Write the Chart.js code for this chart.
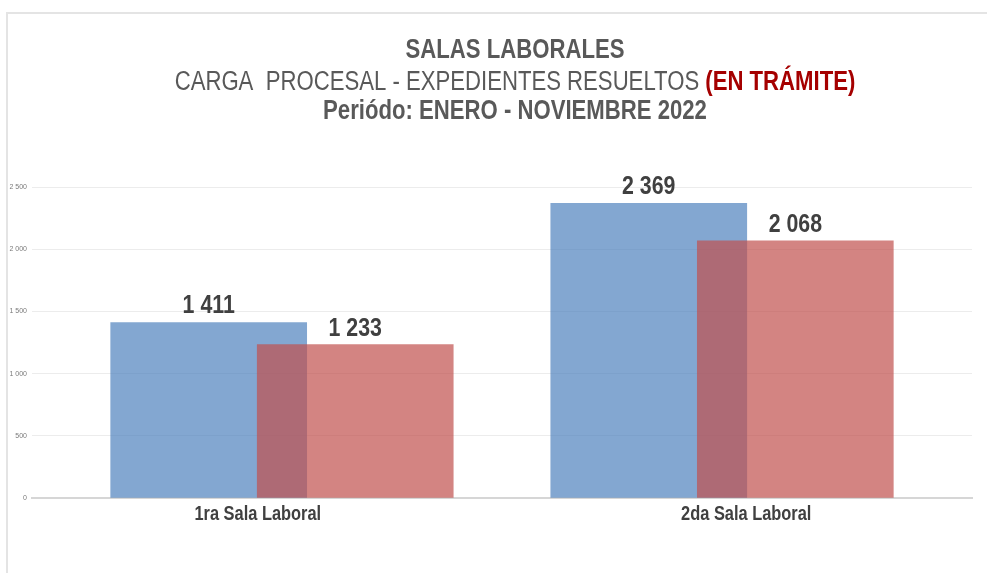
<!DOCTYPE html>
<html>
<head>
<meta charset="utf-8">
<script src="https://cdn.jsdelivr.net/npm/chart.js@4"></script>
<style>
html, body { margin: 0; padding: 0; background: #fff; }
#wrap { position: relative; width: 987px; height: 573px; overflow: hidden; }
#frame { position: absolute; left: 6px; top: 12px; right: 0; bottom: 0; border-top: 2px solid #e4e4e4; border-left: 2px solid #e4e4e4; }
canvas { position: absolute; left: 0; top: 0; }
</style>
</head>
<body>
<div id="wrap">
  <div id="frame"></div>
  <canvas id="chart" width="987" height="573"></canvas>
</div>
<script>
const CATEGORIES = ['1ra Sala Laboral', '2da Sala Laboral']
const CARGA_PROCESAL = [1411, 2369]
const RESUELTOS = [1233, 2068]
const Y_TICKS = [0, 500, 1000, 1500, 2000, 2500]

// no Arial Narrow here, so Liberation Sans squeezed horizontally
const FONT = "'Liberation Sans', Arial, sans-serif"
const NARROW = 0.82
const SHIFT = 0.1665
// category labels sit a bit wider apart than the bar groups
const LABEL_SPREAD = 1.11

function fmt(n) {
    return String(n).replace(/\B(?=(\d{3})+(?!\d))/g, ' ')
}

function narrowText(ctx, text, x, y, align) {
    ctx.save()
    ctx.translate(x, y)
    ctx.scale(NARROW, 1)
    ctx.textAlign = align || 'center'
    ctx.fillText(text, 0, 0)
    ctx.restore()
}

const titlePlugin = {
    id: 'titleLines',
    afterDraw(chart) {
        const ctx = chart.ctx
        const cx = 515
        ctx.save()
        ctx.textBaseline = 'alphabetic'
        ctx.fillStyle = '#595959'
        ctx.font = 'bold 27px ' + FONT
        narrowText(ctx, 'SALAS LABORALES', cx, 58)

        // second line has two styles
        const partA = 'CARGA  PROCESAL - EXPEDIENTES RESUELTOS '
        const partB = '(EN TRÁMITE)'
        ctx.font = '27px ' + FONT
        const wA = ctx.measureText(partA).width * NARROW
        ctx.font = 'bold 27px ' + FONT
        const wB = ctx.measureText(partB).width * NARROW
        const x0 = cx - (wA + wB) / 2
        ctx.font = '27px ' + FONT
        ctx.fillStyle = '#595959'
        narrowText(ctx, partA, x0, 90, 'left')
        ctx.font = 'bold 27px ' + FONT
        ctx.fillStyle = '#a50000'
        narrowText(ctx, partB, x0 + wA, 90, 'left')

        ctx.fillStyle = '#595959'
        narrowText(ctx, 'Periódo: ENERO - NOVIEMBRE 2022', cx, 119)

        // category labels under the axis
        const xs = chart.scales.x
        const mid = (CATEGORIES.length - 1) / 2
        ctx.font = 'bold 20px ' + FONT
        ctx.fillStyle = '#404040'
        CATEGORIES.forEach((c, i) => {
            const px = xs.getPixelForValue(mid + (i - mid) * LABEL_SPREAD)
            narrowText(ctx, c, px, xs.top + 22)
        })
        ctx.restore()
    }
}

const valuePlugin = {
    id: 'valueLabels',
    afterDatasetsDraw(chart) {
        const ctx = chart.ctx
        ctx.save()
        ctx.font = 'bold 26px ' + FONT
        ctx.fillStyle = '#404040'
        ctx.textBaseline = 'alphabetic'
        chart.data.datasets.forEach((ds, i) => {
            const meta = chart.getDatasetMeta(i)
            meta.data.forEach((bar, j) => {
                narrowText(ctx, fmt(ds.data[j].y), bar.x, bar.y - 9)
            })
        })
        ctx.restore()
    }
}

const data = {
    datasets: [{
        label: 'Carga procesal',
        data: CARGA_PROCESAL.map((v, i) => ({ x: i - SHIFT, y: v })),
        backgroundColor: 'rgba(79, 129, 189, 0.7)',
        barThickness: 196,
        grouped: false,
        order: 2
    }, {
        label: 'Expedientes resueltos',
        data: RESUELTOS.map((v, i) => ({ x: i + SHIFT, y: v })),
        backgroundColor: 'rgba(192, 80, 77, 0.7)',
        barThickness: 196,
        grouped: false,
        order: 1
    }]
}

const config = {
    type: 'bar',
    data: data,
    options: {
        responsive: false,
        animation: false,
        layout: { padding: { top: 187, right: 15, left: 0, bottom: 0 } },
        plugins: {
            legend: { display: false },
            tooltip: { enabled: false }
        },
        scales: {
            x: {
                type: 'linear',
                offset: false,
                min: -0.568,
                max: 1.568,
                grid: { display: false },
                border: { display: true, color: '#d6d6d6', width: 2 },
                afterBuildTicks: s => { s.ticks = CATEGORIES.map((c, i) => ({ value: i })) },
                afterFit: s => { s.height = 75 },
                ticks: { display: false }
            },
            y: {
                min: Y_TICKS[0],
                max: Y_TICKS[Y_TICKS.length - 1],
                afterBuildTicks: s => { s.ticks = Y_TICKS.map(v => ({ value: v })) },
                afterFit: s => { s.width = 32 },
                grid: { color: '#ececec', drawTicks: false },
                border: { display: false },
                ticks: {
                    padding: 5,
                    color: '#7a7a7a',
                    font: { family: FONT, size: 7 },
                    callback: v => fmt(v)
                }
            }
        }
    },
    plugins: [titlePlugin, valuePlugin]
}

new Chart(document.getElementById('chart'), config)
</script>
</body>
</html>
